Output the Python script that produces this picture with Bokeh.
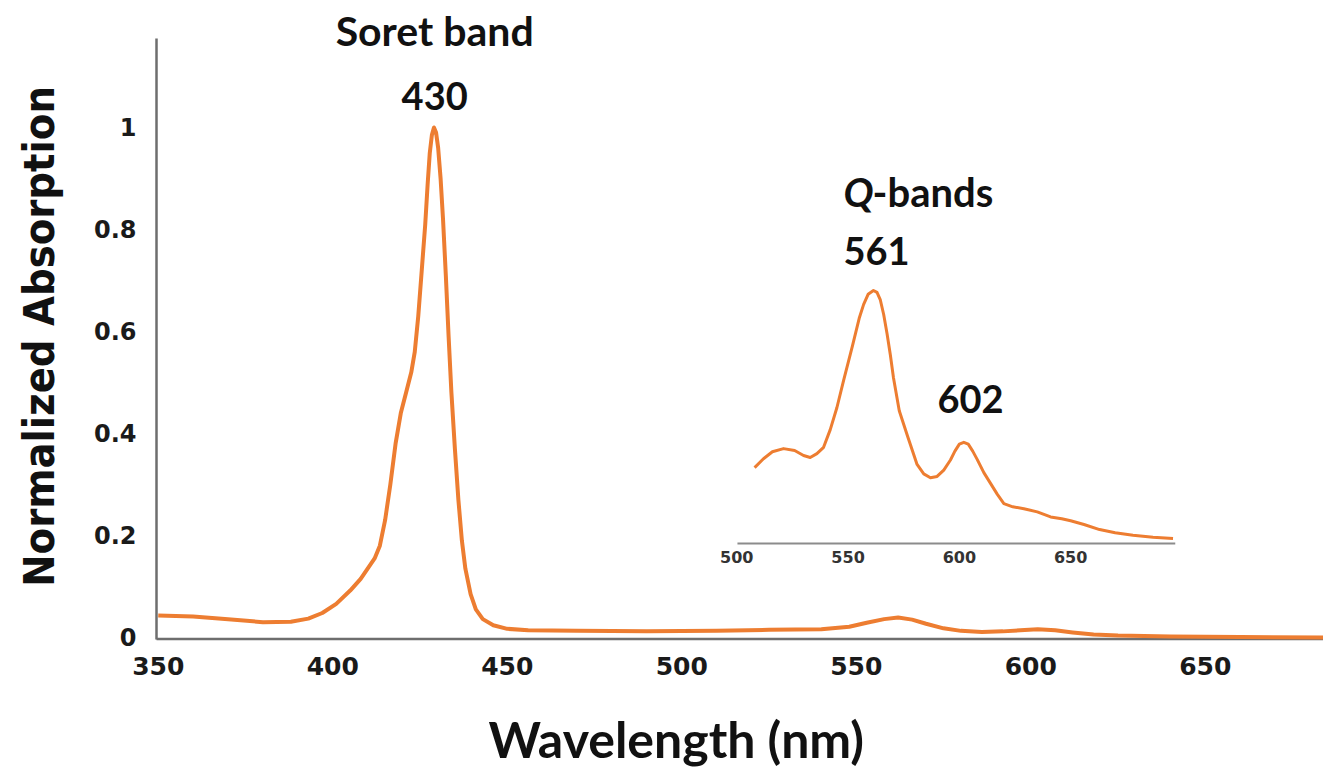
from bokeh.plotting import figure
from bokeh.models import Range1d, FixedTicker, Label, ColumnDataSource
from bokeh.core.properties import value
from bokeh.embed import file_html
from bokeh.resources import INLINE

# ---- data ----
wavelength = [350, 360, 370, 380, 388, 393, 397, 401, 405, 408, 410, 412, 413.5, 415,
              416.5, 418, 419.5, 421, 422.5, 423.5, 424.5, 425.5, 426.5, 427.2, 427.8,
              428.4, 429, 429.6, 430.2, 430.9, 431.6, 432.4, 433.2, 434, 435, 436, 437,
              438, 439.5, 441, 443, 446, 450, 456, 470, 490, 510, 525, 540, 548, 553,
              558, 562, 566, 570, 575, 580, 586, 592, 597, 602, 607, 612, 618, 625,
              640, 660, 684]
absorption = [0.043, 0.041, 0.036, 0.030, 0.031, 0.037, 0.048, 0.066, 0.092, 0.115,
              0.135, 0.155, 0.18, 0.23, 0.30, 0.38, 0.44, 0.48, 0.52, 0.56, 0.63, 0.72,
              0.81, 0.89, 0.95, 0.985, 1.0, 0.99, 0.96, 0.90, 0.82, 0.71, 0.59, 0.48,
              0.37, 0.27, 0.19, 0.135, 0.085, 0.055, 0.036, 0.024, 0.017, 0.014, 0.013,
              0.012, 0.013, 0.015, 0.016, 0.021, 0.029, 0.036, 0.039, 0.035, 0.027,
              0.018, 0.013, 0.011, 0.012, 0.014, 0.016, 0.014, 0.010, 0.006, 0.004,
              0.002, 0.001, 0.0]

inset_wavelength = [508, 512, 516, 521, 526, 530, 533, 536, 539, 542, 545, 548, 552,
                    555, 557, 559, 561.4, 563, 564.5, 566, 567.5, 569, 570.4, 573,
                    576.7, 581, 584, 587, 590, 593, 596, 598, 600, 602, 604, 606, 608,
                    611, 614, 617, 620, 624, 629, 635, 641, 646, 650, 656, 663, 670,
                    678, 687, 696]
inset_absorption = [0.0120, 0.0134, 0.0145, 0.0150, 0.0147, 0.0139, 0.0136, 0.0142,
                    0.0152, 0.0180, 0.0215, 0.0258, 0.0313, 0.0356, 0.0378, 0.0394,
                    0.0400, 0.0397, 0.0385, 0.0362, 0.0332, 0.0298, 0.0262, 0.0210,
                    0.0170, 0.0125, 0.0110, 0.0104, 0.0106, 0.0116, 0.0132, 0.0146,
                    0.0157, 0.0160, 0.0157, 0.0146, 0.0133, 0.0112, 0.0095, 0.0078,
                    0.0063, 0.0058, 0.0055, 0.0050, 0.0042, 0.0039, 0.0036, 0.0030,
                    0.0022, 0.0017, 0.0013, 0.0010, 0.0008]

x_ticks = [350, 400, 450, 500, 550, 600, 650]
y_ticks = [0, 0.2, 0.4, 0.6, 0.8, 1.0]
y_tick_labels = ["0", "0.2", "0.4", "0.6", "0.8", "1"]
inset_ticks = [500, 550, 600, 650]
inset_tick_labels = ["500", "550", "600", "650"]

ORANGE = "#ED7D31"
AXIS_GREY = "#6e6e6e"
TXT = "#111111"
NB = "\u00a0"

p = figure(width=1323, height=771, output_backend="svg", toolbar_location=None,
           x_range=Range1d(347.78, 683.88), y_range=Range1d(-0.0157, 1.2490),
           min_border_left=150, min_border_right=0, min_border_top=0,
           min_border_bottom=126)
p.outline_line_color = None
p.xgrid.visible = False
p.ygrid.visible = False
p.background_fill_color = "white"
p.border_fill_color = "white"

# inset scales (magnified Q-band region)
p.extra_x_ranges = {"inset": Range1d(236.6, 763.6)}
p.extra_y_ranges = {"inset": Range1d(-0.01613, 0.08585)}

# axes styling (axis lines drawn as segments below so they stop where the reference does)
for ax in (p.xaxis[0], p.yaxis[0]):
    ax.axis_line_color = None
    ax.major_tick_line_color = None
    ax.minor_tick_line_color = None
    ax.major_label_text_font = "DejaVu Sans"
    ax.major_label_text_font_style = "bold"
    ax.major_label_text_color = "#1a1a1a"

p.xaxis.ticker = FixedTicker(ticks=x_ticks)
p.xaxis.major_label_text_font_size = "25px"
p.xaxis.major_label_standoff = 5
p.xaxis.axis_label = "Wavelength (nm)" + NB * 10
p.xaxis.axis_label_text_font = "Lato"
p.xaxis.axis_label_text_font_style = "bold"
p.xaxis.axis_label_text_font_size = "50px"
p.xaxis.axis_label_text_color = TXT
p.xaxis.axis_label_standoff = 31

p.yaxis.ticker = FixedTicker(ticks=y_ticks)
p.yaxis.major_label_overrides = dict(zip(y_ticks, y_tick_labels))
p.yaxis.major_label_text_font_size = "24px"
p.yaxis.major_label_standoff = 8
p.yaxis.axis_label = "Normalized Absorption" + NB * 2
p.yaxis.axis_label_text_font = "DejaVu Sans Condensed, DejaVu Sans, sans-serif"
p.yaxis.axis_label_text_font_style = "bold"
p.yaxis.axis_label_text_font_size = "43px"
p.yaxis.axis_label_text_color = TXT
p.yaxis.axis_label_standoff = 27

# axis lines
p.segment(x0=[349.5], y0=[-0.0039], x1=[349.5], y1=[1.1745], line_color=AXIS_GREY,
          line_width=2.5)
p.segment(x0=[349.5], y0=[-0.0029], x1=[690], y1=[-0.0029], line_color=AXIS_GREY,
          line_width=2.5)

# main spectrum
p.line(wavelength, absorption, line_color=ORANGE, line_width=4, line_join="round")

# inset spectrum and its axis
p.line(inset_wavelength, inset_absorption, line_color=ORANGE, line_width=3,
       line_join="round", x_range_name="inset", y_range_name="inset")
p.segment(x0=[500.3], y0=[0], x1=[697], y1=[0], line_color="#8c8c8c", line_width=2,
          x_range_name="inset", y_range_name="inset")
src = ColumnDataSource(dict(x=inset_ticks, y=[-0.0022] * len(inset_ticks),
                            t=inset_tick_labels))
p.text(x="x", y="y", text="t", source=src, x_range_name="inset", y_range_name="inset",
       text_font=value("DejaVu Sans"), text_font_style="bold", text_font_size="16px",
       text_color="#333333", text_align="center", text_baseline="middle")

# annotations
def lab(txt, x, y, size, align="center", style="bold", xr="default", yr="default"):
    p.add_layout(Label(x=x, y=y, text=txt, text_font="Lato", text_font_style=style,
                       text_font_size=size, text_color=TXT, text_align=align,
                       text_baseline="middle", x_range_name=xr, y_range_name=yr))

lab("Soret band", 429.2, 1.190, "41px")
lab("430", 429.2, 1.061, "38px")
lab("Q", 547.9, 0.0555, "40px", align="left", style="bold italic", xr="inset", yr="inset")
lab("-bands", 561.0, 0.0555, "40px", align="left", xr="inset", yr="inset")
lab("561", 562.8, 0.0463, "38px", xr="inset", yr="inset")
lab("602", 605.0, 0.0228, "38px", xr="inset", yr="inset")

open("out.html", "w").write(file_html(p, INLINE))
